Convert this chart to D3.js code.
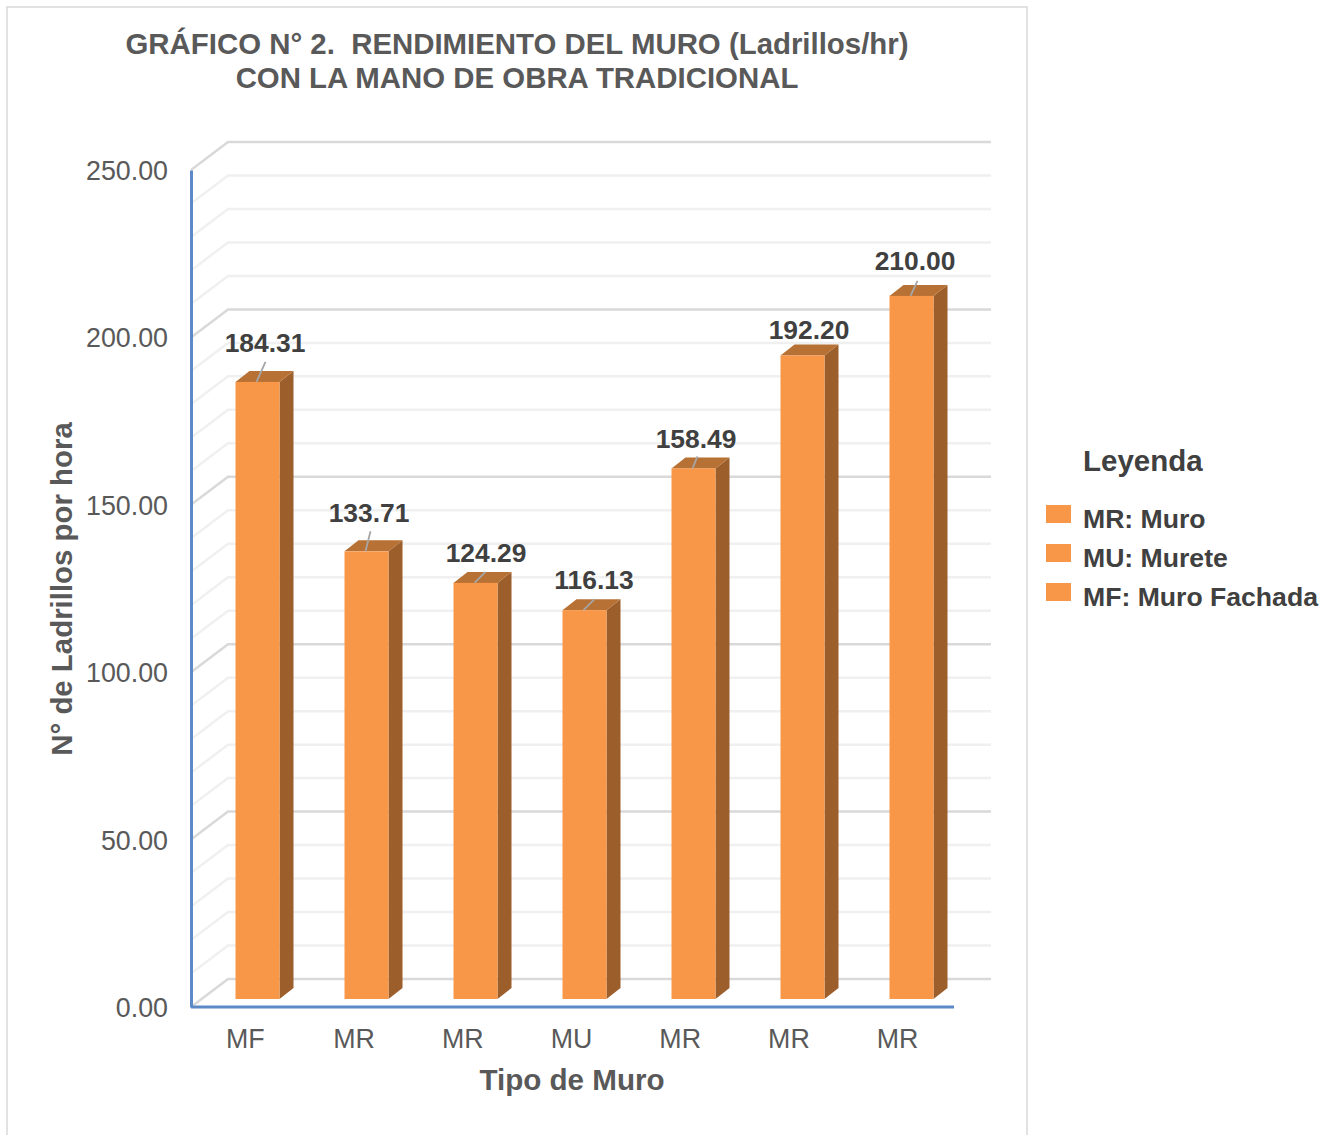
<!DOCTYPE html>
<html>
<head>
<meta charset="utf-8">
<script src="https://d3js.org/d3.v7.min.js"></script>
<style>
  html, body { margin: 0; padding: 0; background: #fff; }
  svg { display: block; }
  text { font-family: "Liberation Sans", Arial, sans-serif; }
</style>
</head>
<body>
<svg id="chart" width="1336" height="1135"></svg>
<script>
var categories = ["MF", "MR", "MR", "MU", "MR", "MR", "MR"];
var values = [184.31, 133.71, 124.29, 116.13, 158.49, 192.20, 210.00];
var yTicks = [0, 50, 100, 150, 200, 250];
var gridValues = d3.range(0, 251, 10);
var legendLabels = ["MR: Muro", "MU: Murete", "MF: Muro Fachada"];

// excel placed the data labels by hand, so these are offsets from the bar top
var labelNudge = [[8, -39], [3, -39], [11, -30], [10, -30], [3, -30], [7, -26], [4, -35]];
// where each leader line ends, null when the label has none
var leaderEnd = [[9, -20], [5, -20], [11, -11], [11, -11], [5, -12], null, [7, -15]];

var ORANGE = "#F99748", TOP = "#B87134", SIDE = "#9C5E2B";
var AXIS = "#5B8AC6", TEXT = "#595959", DARK = "#404040";

var svg = d3.select("#chart");

var x = d3.scaleBand().domain(d3.range(categories.length)).range([191, 954]);
var xLabels = d3.scaleBand().domain(d3.range(categories.length)).range([191, 952]);
var y = d3.scaleLinear().domain([0, 250]).range([1007, 170]);

var wall = {dx: 37, dy: -28};        // back wall offset
var bar = {dx: 12, dy: -8, w: 44, depthX: 14, depthY: -11};

function barCenter(i) {
  return x(i) + x.bandwidth() / 2 + bar.dx;
}

// chart frame
svg.append("rect")
    .attr("x", 7).attr("y", 7)
    .attr("width", 1020).attr("height", 1140)
    .attr("fill", "#fff")
    .attr("stroke", "#D9D9D9")
    .attr("stroke-width", 1.5);

// gridlines on the side wall and back wall
svg.append("g").selectAll("path")
    .data(gridValues)
    .enter().append("path")
    .attr("fill", "none")
    .attr("stroke", function(d) { return d % 50 === 0 ? "#D9D9D9" : "#F0F0F0"; })
    .attr("stroke-width", 2.5)
    .attr("d", function(d) {
      var p = "M" + x.range()[0] + " " + y(d);
      p += "L" + (x.range()[0] + wall.dx) + " " + (y(d) + wall.dy);
      p += "L" + (x.range()[1] + wall.dx) + " " + (y(d) + wall.dy);
      return p;
    });

// bars
var bars = svg.append("g").selectAll("g")
    .data(values)
    .enter().append("g")
    .attr("transform", function(d, i) {
      return "translate(" + (barCenter(i) - bar.w / 2) + "," + bar.dy + ")";
    });

bars.append("path")
    .attr("fill", SIDE)
    .attr("d", function(d) {
      return "M" + bar.w + " " + y(d) +
        "l" + bar.depthX + " " + bar.depthY +
        "V" + (y(0) + bar.depthY) +
        "l" + (-bar.depthX) + " " + (-bar.depthY) + "Z";
    });

bars.append("path")
    .attr("fill", TOP)
    .attr("d", function(d) {
      return "M0 " + y(d) +
        "l" + bar.depthX + " " + bar.depthY +
        "h" + bar.w +
        "l" + (-bar.depthX) + " " + (-bar.depthY) + "Z";
    });

bars.append("rect")
    .attr("fill", ORANGE)
    .attr("x", 0)
    .attr("y", function(d) { return y(d); })
    .attr("width", bar.w)
    .attr("height", function(d) { return y(0) - y(d); });

// leader lines and data labels
var labels = svg.append("g");

values.forEach(function(d, i) {
  if (!leaderEnd[i]) return;
  labels.append("line")
    .attr("stroke", "#A6A6A6")
    .attr("stroke-width", 1.8)
    .attr("x1", barCenter(i) - 1)
    .attr("y1", y(d) + bar.dy)
    .attr("x2", barCenter(i) - 1 + leaderEnd[i][0])
    .attr("y2", y(d) + bar.dy + leaderEnd[i][1]);
});

labels.selectAll("text")
    .data(values)
    .enter().append("text")
    .attr("x", function(d, i) { return barCenter(i) + labelNudge[i][0] - 0.5; })
    .attr("y", function(d, i) { return y(d) + bar.dy + labelNudge[i][1]; })
    .attr("dy", "0.35em")
    .attr("text-anchor", "middle")
    .attr("font-size", 26.4)
    .attr("font-weight", "bold")
    .attr("fill", DARK)
    .text(function(d) { return d.toFixed(2); });

// axes
var yAxis = svg.append("g")
    .attr("transform", "translate(" + x.range()[0] + ",1)")
    .call(d3.axisLeft(y).tickValues(yTicks).tickSize(0).tickPadding(23).tickFormat(d3.format(".2f")));

var xAxis = svg.append("g")
    .attr("transform", "translate(0," + y(0) + ")")
    .call(d3.axisBottom(xLabels).tickSize(0).tickPadding(22).tickFormat(function(i) { return categories[i]; }));

yAxis.select(".domain").attr("transform", "translate(0,-1)");
xAxis.select(".domain").attr("d", "M" + x.range()[0] + ",0H" + x.range()[1]);

[yAxis, xAxis].forEach(function(a) {
  a.select(".domain").attr("stroke", AXIS).attr("stroke-width", 3);
  a.selectAll("text")
    .attr("font-family", '"Liberation Sans", Arial, sans-serif')
    .attr("font-size", 26.8)
    .attr("fill", TEXT);
});

// titles
var title = svg.append("text")
    .attr("text-anchor", "middle")
    .attr("font-size", 29.4)
    .attr("font-weight", "bold")
    .attr("fill", TEXT)
    .style("white-space", "pre");
title.append("tspan").attr("x", 517).attr("y", 54).text("GRÁFICO N° 2.  RENDIMIENTO DEL MURO (Ladrillos/hr)");
title.append("tspan").attr("x", 517).attr("y", 88).text("CON LA MANO DE OBRA TRADICIONAL");

svg.append("text")
    .attr("transform", "translate(72,589) rotate(-90)")
    .attr("text-anchor", "middle")
    .attr("font-size", 29.4)
    .attr("font-weight", "bold")
    .attr("fill", TEXT)
    .text("N° de Ladrillos por hora");

svg.append("text")
    .attr("x", 572).attr("y", 1090)
    .attr("text-anchor", "middle")
    .attr("font-size", 29.6)
    .attr("font-weight", "bold")
    .attr("fill", TEXT)
    .text("Tipo de Muro");

// legend
svg.append("text")
    .attr("x", 1083).attr("y", 471)
    .attr("font-size", 29.5)
    .attr("font-weight", "bold")
    .attr("fill", DARK)
    .text("Leyenda");

var legendY = d3.scalePoint().domain(legendLabels).range([514, 592]);

var legend = svg.append("g").selectAll("g")
    .data(legendLabels)
    .enter().append("g")
    .attr("transform", function(d) { return "translate(0," + legendY(d) + ")"; });

legend.append("rect")
    .attr("x", 1046).attr("y", -9)
    .attr("width", 25).attr("height", 18)
    .attr("fill", ORANGE);

legend.append("text")
    .attr("x", 1083).attr("y", 13.5)
    .attr("font-size", 26.6)
    .attr("font-weight", "bold")
    .attr("fill", DARK)
    .text(function(d) { return d; });
</script>
</body>
</html>
